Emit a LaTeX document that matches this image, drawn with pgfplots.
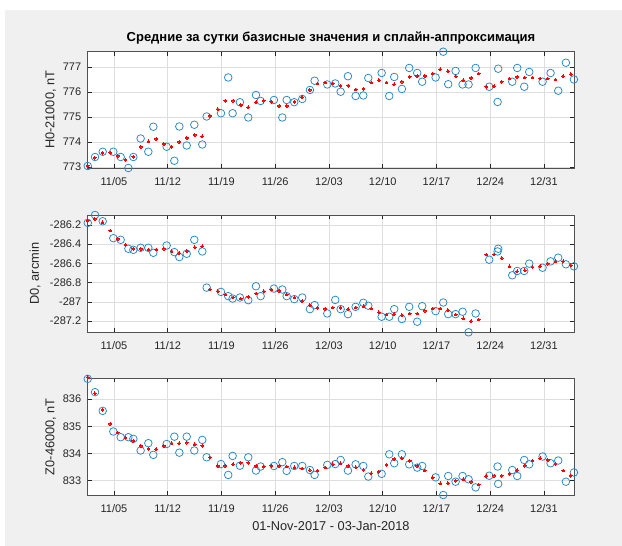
\documentclass[border=0pt]{standalone}
\usepackage{fontspec}
\setmainfont{Liberation Sans}
\usepackage{pgfplots}
\pgfplotsset{compat=1.18}
\usepackage{pgfplotstable}

\definecolor{mblue}{RGB}{0,114,189}
\definecolor{mred}{RGB}{255,0,0}
\definecolor{figbg}{RGB}{240,240,240}
\definecolor{axcol}{RGB}{38,38,38}
\definecolor{gridcol}{RGB}{222,222,222}

% daily mean base values (days since 01-Nov-2017 00:00)
\pgfplotstableread{
d H D Z
0.58 773.04 -286.179 836.75
1.53 773.40 -286.097 836.26
2.53 773.61 -286.162 835.57
3.91 773.61 -286.338 834.81
4.87 773.40 -286.355 834.60
5.87 772.96 -286.448 834.60
6.52 773.40 -286.459 834.54
7.47 774.14 -286.438 834.11
8.47 773.61 -286.438 834.38
9.12 774.61 -286.490 833.95
10.86 773.81 -286.414 834.35
11.86 773.25 -286.483 834.62
12.51 774.62 -286.534 834.03
13.47 773.86 -286.500 834.62
14.46 774.69 -286.355 834.11
15.50 773.90 -286.476 834.50
16.07 775.02 -286.852 833.86
17.93 775.15 -286.897 833.61
18.88 776.58 -286.941 833.21
19.45 775.15 -286.966 833.91
20.40 775.59 -286.955 833.55
21.49 774.98 -286.983 833.86
22.49 775.88 -286.838 833.37
23.10 775.64 -286.941 833.52
24.83 775.68 -286.862 833.54
25.92 774.98 -286.872 833.68
26.49 775.68 -286.941 833.36
27.48 775.59 -286.972 833.54
28.52 775.72 -286.955 833.54
29.52 776.08 -287.076 833.39
30.13 776.45 -287.034 833.21
31.78 776.30 -287.121 833.58
32.82 776.34 -286.980 833.61
33.52 776.01 -287.076 833.76
34.47 776.63 -287.128 833.37
35.47 775.84 -287.052 833.60
36.47 775.86 -287.010 833.54
37.12 776.56 -287.041 833.15
38.86 776.76 -287.155 833.25
39.85 775.84 -287.155 833.97
40.50 776.60 -287.076 833.64
41.50 776.12 -287.179 833.97
42.45 776.96 -287.052 833.60
43.49 776.76 -287.207 833.48
44.14 776.41 -287.045 833.54
45.89 776.58 -287.097 833.12
46.88 777.61 -287.007 832.47
47.53 776.31 -287.128 833.17
48.49 776.84 -287.128 832.96
49.40 776.30 -287.103 833.17
50.18 776.30 -287.317 833.05
51.10 776.96 -287.121 832.75
52.87 776.21 -286.562 833.18
53.96 775.60 -286.476 833.52
54.04 776.93 -286.448 832.88
55.87 776.41 -286.724 833.39
56.52 776.96 -286.679 833.17
57.43 776.21 -286.679 833.76
58.08 776.80 -286.603 833.60
59.82 776.41 -286.645 833.89
60.86 776.76 -286.579 833.64
61.86 776.05 -286.541 833.74
62.86 777.17 -286.610 832.96
63.90 776.50 -286.631 833.30
}\obs

% spline approximation, one value per day
\pgfplotstableread{
d H D Z
0.58 773.05 -286.155 836.81
1.5 773.37 -286.138 836.22
2.5 773.57 -286.172 835.61
3.5 773.57 -286.259 835.09
4.5 773.44 -286.345 834.77
5.5 773.28 -286.407 834.59
6.5 773.41 -286.448 834.46
7.5 773.81 -286.448 834.28
8.5 774.03 -286.455 834.17
9.5 774.12 -286.455 834.16
10.5 773.92 -286.448 834.28
11.5 773.81 -286.472 834.38
12.5 774.00 -286.493 834.38
13.5 774.16 -286.472 834.40
14.5 774.28 -286.431 834.34
15.5 774.23 -286.421 834.28
16.5 775.05 -286.872 833.85
17.5 775.31 -286.890 833.54
18.5 775.65 -286.924 833.54
19.5 775.65 -286.955 833.60
20.5 775.48 -286.966 833.66
21.5 775.39 -286.948 833.66
22.5 775.59 -286.914 833.54
23.5 775.65 -286.890 833.52
24.5 775.61 -286.872 833.54
25.5 775.44 -286.886 833.54
26.5 775.44 -286.924 833.52
27.5 775.61 -286.955 833.49
28.5 775.79 -286.993 833.45
29.5 776.08 -287.034 833.39
30.5 776.34 -287.062 833.37
31.5 776.38 -287.072 833.48
32.5 776.34 -287.059 833.60
33.5 776.25 -287.062 833.64
34.5 776.25 -287.076 833.54
35.5 776.10 -287.059 833.49
36.5 776.12 -287.045 833.39
37.5 776.38 -287.069 833.27
38.5 776.47 -287.110 833.33
39.5 776.38 -287.131 833.58
40.5 776.31 -287.128 833.80
41.5 776.41 -287.138 833.82
42.5 776.60 -287.121 833.73
43.5 776.64 -287.121 833.54
44.5 776.64 -287.093 833.37
45.5 776.74 -287.069 833.12
46.5 776.91 -287.069 832.90
47.5 776.83 -287.086 832.90
48.5 776.63 -287.131 833.00
49.5 776.47 -287.172 833.05
50.5 776.56 -287.200 832.96
51.5 776.74 -287.183 832.86
52.5 776.21 -286.507 833.17
53.5 776.23 -286.507 833.18
54.5 776.41 -286.545 833.18
55.5 776.54 -286.631 833.25
56.5 776.60 -286.683 833.39
57.5 776.58 -286.672 833.55
58.5 776.58 -286.638 833.74
59.5 776.54 -286.628 833.82
60.5 776.54 -286.603 833.76
61.5 776.50 -286.579 833.61
62.5 776.63 -286.579 833.37
63.5 776.71 -286.621 833.18
}\spl

\pgfplotsset{
  panel/.style={
    scale only axis, width=486.6pt,
    xmin=0.575, xmax=63.95,
    xtick={4,11,18,25,32,39,46,53,60},
    xticklabels={11/05,11/12,11/19,11/26,12/03,12/10,12/17,12/24,12/31},
    grid=major,
    major grid style={gridcol, line width=0.5pt},
    axis line style={axcol!80, line width=0.6pt},
    tick style={axcol, line width=0.5pt},
    major tick length=4pt,
    tick align=inside,
    tick label style={font=\fontsize{11}{13}\selectfont, text=axcol},
    /pgf/number format/assume math mode=true,
    scaled y ticks=false,
    axis background/.style={fill=white},
    clip=false,
    xticklabel style={anchor=base, yshift=-17.5pt},
    yticklabel style={anchor=east, xshift=-3pt},
    label style={font=\fontsize{12.8}{15}\selectfont, text=axcol},
    ylabel style={at={(axis description cs:-0.0686,0.5)}, anchor=base},
  },
  obs/.style={only marks, color=mblue!85, mark=o, mark size=3.8pt,
    mark options={draw=mblue!85, fill=none, line width=0.75pt}},
  spl/.style={only marks, color=mred, mark=*, mark size=1.4pt,
    mark options={draw=mred, fill=mred, line width=0pt}},
}

\begin{document}
\begin{tikzpicture}
\fill[white] (0pt,0pt) rectangle (622pt,-546pt);
\fill[figbg] (5pt,-10pt) rectangle (622pt,-546pt);

% horizontal component
\begin{axis}[panel, at={(87.7pt,-51.7pt)}, anchor=north west, height=116.3pt,
  ymin=772.96, ymax=777.61,
  ytick={773,774,775,776,777}, yticklabels={773,774,775,776,777},
  ylabel={H0-21000, nT},
  title={Средние за сутки базисные значения и сплайн-аппроксимация},
  title style={at={(axis description cs:0.5,1)}, anchor=base, yshift=4.5pt,
    font=\bfseries\fontsize{13}{15}\selectfont, text=black}]
\addplot[obs] table[x=d, y=H] {\obs};
\addplot[spl] table[x=d, y=H] {\spl};
\end{axis}

% declination
\begin{axis}[panel, at={(87.7pt,-215pt)}, anchor=north west, height=117.3pt,
  ymin=-287.317, ymax=-286.097,
  ytick={-287.2,-287,-286.8,-286.6,-286.4,-286.2},
  yticklabels={-287.2,-287,-286.8,-286.6,-286.4,-286.2},
  ylabel={D0, arcmin},
  ylabel style={at={(axis description cs:-0.1005,0.5)}}]
\addplot[obs] table[x=d, y=D] {\obs};
\addplot[spl] table[x=d, y=D] {\spl};
\end{axis}

% vertical component
\begin{axis}[panel, at={(87.7pt,-378.3pt)}, anchor=north west, height=116.7pt,
  ymin=832.47, ymax=836.77,
  ytick={833,834,835,836}, yticklabels={833,834,835,836},
  ylabel={Z0-46000, nT},
  xlabel={01-Nov-2017 - 03-Jan-2018},
  xlabel style={at={(axis description cs:0.5,0)}, anchor=base, yshift=-35pt}]
\addplot[obs] table[x=d, y=Z] {\obs};
\addplot[spl] table[x=d, y=Z] {\spl};
\end{axis}
\end{tikzpicture}
\end{document}
